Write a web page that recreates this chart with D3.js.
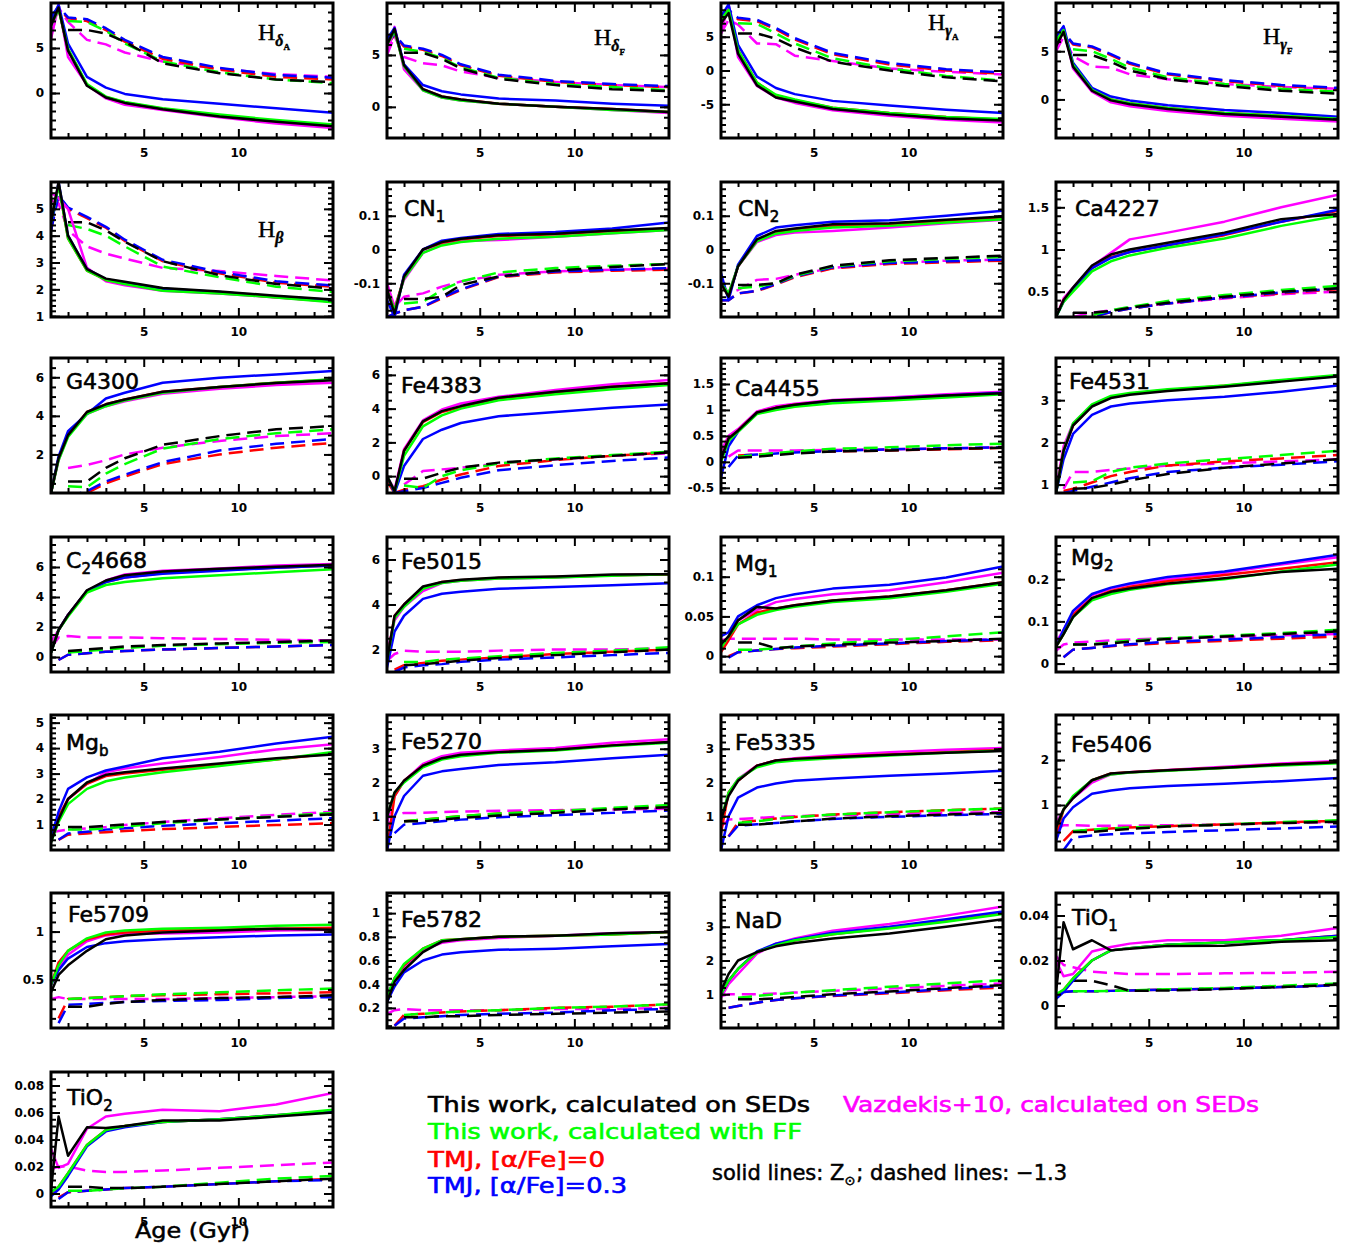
<!DOCTYPE html>
<html><head><meta charset="utf-8">
<script src="https://cdn.jsdelivr.net/npm/d3@7"></script>
<style>body{margin:0;background:#fff}</style>
</head><body>
<svg id="c" width="1346" height="1247" xmlns="http://www.w3.org/2000/svg"></svg>
<script>
// ---------- DATA ----------
const AGES = [0.1, 0.5, 1, 2, 3, 4, 6, 9, 12, 15];   // Gyr
const SERIES = ["This work, calculated on SEDs", "This work, calculated with FF", "TMJ, [α/Fe]=0", "TMJ, [α/Fe]=0.3", "Vazdekis+10, calculated on SEDs"];
const COLORS = ["#000000", "#00ff00", "#ff0000", "#0000ff", "#ff00ff"];
// each panel: rows 0-4 solid (Z_sun): black, green, red, blue, magenta ; rows 5-9 dashed ([M/H]=-1.3), same order
const HdA = [
 [7.5, 9.5, 4.7, 0.8, -0.5, -1.1, -1.8, -2.6, -3.2, -3.7],
 [7.5, 9.3, 4.9, 1.0, -0.4, -1.0, -1.7, -2.4, -3.0, -3.5],
 [8.0, 9.4, 4.8, 0.9, -0.45, -1.05, -1.75, -2.5, -3.1, -3.6],
 [8.0, 9.8, 5.5, 1.8, 0.6, -0.1, -0.7, -1.2, -1.7, -2.2],
 [6.0, 9.8, 4.0, 0.9, -0.6, -1.3, -1.9, -2.7, -3.4, -3.9],
 [null, null, 7.0, 7.0, 6.6, 5.7, 3.3, 2.2, 1.5, 1.2],
 [null, null, 8.0, 7.9, 6.9, 5.5, 3.5, 2.3, 1.5, 1.1],
 [8.3, 9.4, 8.3, 8.0, 7.0, 5.7, 3.8, 2.6, 1.8, 1.5],
 [8.5, 9.6, 8.4, 8.2, 7.2, 5.9, 4.0, 2.8, 2.0, 1.7],
 [6.3, 9.5, 7.9, 5.9, 5.4, 4.5, 3.5, 2.7, 2.1, 1.8]];
const HdF = [
 [6, 7.5, 4, 1.7, 1.0, 0.7, 0.3, 0.0, -0.2, -0.5],
 [6, 7.3, 3.9, 1.6, 0.9, 0.6, 0.3, 0.0, -0.3, -0.5],
 [6, 7.4, 4, 1.7, 1.0, 0.7, 0.3, 0, -0.2, -0.5],
 [6.5, 7.6, 4.1, 2.1, 1.5, 1.2, 0.8, 0.6, 0.3, 0.1],
 [5, 7.7, 3.6, 1.6, 0.9, 0.6, 0.3, 0.0, -0.3, -0.6],
 [null, null, 5.2, 5.2, 4.6, 3.7, 2.7, 2.1, 1.7, 1.5],
 [null, null, 5.6, 5.3, 4.7, 3.8, 2.8, 2.2, 1.9, 1.6],
 [6, 6.9, 5.8, 5.5, 4.9, 4.0, 3.0, 2.4, 2.1, 1.9],
 [6, 7, 5.9, 5.6, 5.0, 4.1, 3.1, 2.5, 2.2, 2.0],
 [5, 6.8, 4.8, 4.2, 4.0, 3.4, 2.8, 2.4, 2.1, 1.9]];
const HgA = [
 [7, 8.5, 2.5, -2.2, -4.0, -4.6, -5.7, -6.5, -7.1, -7.4],
 [7.5, 9, 3.0, -1.8, -3.6, -4.3, -5.5, -6.3, -6.9, -7.2],
 [7.5, 9, 3.0, -1.8, -3.7, -4.4, -5.5, -6.3, -6.9, -7.3],
 [8, 9.8, 3.8, -0.9, -2.6, -3.5, -4.5, -5.2, -5.8, -6.3],
 [5.5, 9.8, 2.0, -2.3, -4.0, -4.8, -5.9, -6.7, -7.3, -7.7],
 [null, null, 5.5, 5.5, 4.7, 3.4, 1.3, 0.0, -1.0, -1.6],
 [null, null, 7.0, 6.9, 5.5, 4.0, 1.8, 0.3, -0.8, -1.5],
 [7.8, 8.8, 7.6, 7.3, 6.1, 4.6, 2.4, 0.9, 0.0, -0.5],
 [8, 9, 7.8, 7.5, 6.3, 4.8, 2.6, 1.1, 0.2, -0.3],
 [5.5, 7.5, 6.8, 4.0, 3.9, 2.2, 1.4, 0.3, -0.2, -0.6]];
const HgF = [
 [5.5, 7, 3.4, 0.9, -0.1, -0.5, -1.0, -1.5, -1.8, -2.1],
 [6, 7.2, 3.6, 1.0, 0.0, -0.4, -0.9, -1.4, -1.7, -2.0],
 [6, 7.2, 3.6, 1.0, 0.0, -0.4, -0.9, -1.4, -1.7, -2.0],
 [6.5, 7.6, 3.8, 1.2, 0.3, -0.1, -0.6, -1.1, -1.4, -1.8],
 [5, 7.5, 3.2, 0.8, -0.3, -0.7, -1.2, -1.7, -2.0, -2.3],
 [null, null, 4.6, 4.6, 3.9, 3.0, 2.1, 1.4, 0.9, 0.6],
 [null, null, 5.2, 5.0, 4.2, 3.3, 2.3, 1.6, 1.1, 0.8],
 [5.9, 6.9, 5.7, 5.4, 4.6, 3.7, 2.6, 1.9, 1.4, 1.1],
 [6, 7, 5.8, 5.5, 4.7, 3.8, 2.7, 2.0, 1.5, 1.2],
 [5, 6.5, 4.5, 3.4, 3.3, 2.6, 2.1, 1.6, 1.3, 1.1]];
const Hb = [
 [4.5, 6.0, 4.0, 2.75, 2.4, 2.28, 2.05, 1.92, 1.76, 1.62],
 [4.5, 5.9, 3.9, 2.7, 2.35, 2.2, 1.95, 1.85, 1.7, 1.52],
 [4.5, 5.9, 3.9, 2.7, 2.35, 2.22, 1.97, 1.87, 1.71, 1.55],
 [4.2, 6.0, 4.0, 2.75, 2.38, 2.25, 2.02, 1.9, 1.73, 1.6],
 [5.6, 5.4, 5.0, 2.8, 2.3, 2.15, 1.95, 1.85, 1.7, 1.55],
 [null, null, 4.5, 4.5, 4.2, 3.77, 3.05, 2.53, 2.2, 2.03],
 [null, null, 4.4, 4.25, 4.0, 3.6, 2.85, 2.45, 2.1, 1.9],
 [4.2, 5.5, 5.0, 4.65, 4.3, 3.8, 3.05, 2.6, 2.25, 2.1],
 [4.2, 5.5, 5.05, 4.7, 4.33, 3.85, 3.1, 2.65, 2.3, 2.15],
 [5.3, 5.2, 4.2, 3.6, 3.33, 3.15, 2.8, 2.68, 2.5, 2.33]];
const CN1 = [
 [-0.12, -0.19, -0.08, 0.0, 0.022, 0.032, 0.042, 0.047, 0.056, 0.064],
 [-0.12, -0.18, -0.085, -0.01, 0.012, 0.022, 0.032, 0.038, 0.048, 0.058],
 [-0.12, -0.18, -0.08, 0.0, 0.02, 0.03, 0.04, 0.045, 0.055, 0.062],
 [-0.15, -0.2, -0.075, 0.0, 0.026, 0.034, 0.046, 0.052, 0.062, 0.08],
 [-0.1, -0.17, -0.09, -0.01, 0.015, 0.025, 0.028, 0.038, 0.048, 0.058],
 [null, null, -0.147, -0.147, -0.14, -0.105, -0.08, -0.062, -0.052, -0.043],
 [null, null, -0.16, -0.155, -0.12, -0.095, -0.068, -0.055, -0.048, -0.043],
 [-0.2, -0.19, -0.18, -0.17, -0.145, -0.12, -0.082, -0.068, -0.063, -0.06],
 [-0.2, -0.19, -0.18, -0.17, -0.142, -0.118, -0.08, -0.065, -0.06, -0.055],
 [-0.13, -0.17, -0.14, -0.13, -0.11, -0.095, -0.075, -0.065, -0.06, -0.057]];
const CN2 = [
 [-0.1, -0.14, -0.05, 0.03, 0.055, 0.062, 0.075, 0.078, 0.088, 0.098],
 [-0.1, -0.13, -0.05, 0.025, 0.047, 0.055, 0.065, 0.07, 0.08, 0.09],
 [-0.1, -0.14, -0.05, 0.028, 0.05, 0.058, 0.07, 0.074, 0.084, 0.094],
 [-0.07, -0.15, -0.045, 0.04, 0.065, 0.072, 0.082, 0.087, 0.1, 0.115],
 [-0.1, -0.13, -0.05, 0.022, 0.043, 0.05, 0.055, 0.065, 0.078, 0.088],
 [null, null, -0.105, -0.105, -0.1, -0.075, -0.048, -0.032, -0.025, -0.018],
 [null, null, -0.115, -0.11, -0.1, -0.078, -0.05, -0.035, -0.028, -0.022],
 [-0.15, -0.15, -0.13, -0.123, -0.104, -0.082, -0.056, -0.043, -0.038, -0.033],
 [-0.15, -0.15, -0.13, -0.122, -0.102, -0.08, -0.053, -0.04, -0.035, -0.03],
 [-0.1, -0.13, -0.12, -0.09, -0.087, -0.075, -0.055, -0.04, -0.033, -0.03]];
const Ca4227 = [
 [0.2, 0.4, 0.55, 0.81, 0.94, 1.0, 1.08, 1.2, 1.36, 1.42],
 [0.2, 0.38, 0.5, 0.74, 0.86, 0.93, 1.02, 1.13, 1.28, 1.4],
 [0.2, 0.4, 0.53, 0.78, 0.91, 0.97, 1.05, 1.17, 1.33, 1.46],
 [0.2, 0.38, 0.52, 0.78, 0.9, 0.97, 1.05, 1.18, 1.33, 1.47],
 [0.2, 0.42, 0.55, 0.8, 0.96, 1.12, 1.2, 1.33, 1.5, 1.65],
 [null, null, 0.25, 0.25, 0.27, 0.31, 0.37, 0.44, 0.5, 0.54],
 [null, null, 0.18, 0.22, 0.28, 0.32, 0.39, 0.46, 0.52, 0.57],
 [0.15, 0.15, 0.15, 0.2, 0.26, 0.3, 0.36, 0.43, 0.48, 0.53],
 [0.15, 0.15, 0.15, 0.2, 0.26, 0.3, 0.36, 0.43, 0.49, 0.54],
 [null, null, 0.2, 0.25, 0.28, 0.31, 0.36, 0.42, 0.47, 0.5]];
const G4300 = [
 [0, 1.8, 3.0, 4.2, 4.6, 4.85, 5.25, 5.5, 5.7, 5.85],
 [0, 1.7, 2.9, 4.1, 4.5, 4.8, 5.2, 5.5, 5.72, 5.9],
 [0, 1.8, 3.0, 4.2, 4.6, 4.85, 5.25, 5.5, 5.72, 5.88],
 [0, 1.9, 3.2, 4.1, 4.9, 5.2, 5.72, 5.98, 6.15, 6.33],
 [0, 1.7, 3.0, 4.1, 4.5, 4.75, 5.15, 5.4, 5.6, 5.72],
 [null, null, 0.6, 0.6, 1.3, 1.8, 2.5, 2.95, 3.3, 3.47],
 [null, null, 0.35, 0.3, 1.0, 1.5, 2.3, 2.8, 3.1, 3.3],
 [null, null, -0.3, 0.0, 0.5, 0.85, 1.5, 2.0, 2.35, 2.6],
 [null, null, -0.2, 0.1, 0.6, 0.95, 1.6, 2.2, 2.55, 2.8],
 [null, null, 1.3, 1.45, 1.7, 2.0, 2.35, 2.7, 2.95, 3.1]];
const Fe4383 = [
 [0, -0.9, 1.5, 3.25, 3.85, 4.15, 4.65, 5.0, 5.3, 5.5],
 [0, -0.9, 1.2, 2.95, 3.6, 4.0, 4.5, 4.85, 5.15, 5.4],
 [-0.3, -1.0, 1.5, 3.2, 3.8, 4.1, 4.6, 4.95, 5.3, 5.5],
 [0, -1.0, 0.6, 2.2, 2.75, 3.15, 3.55, 3.8, 4.05, 4.25],
 [0, -0.8, 1.6, 3.3, 3.95, 4.3, 4.7, 5.1, 5.45, 5.7],
 [null, null, -0.15, -0.15, 0.2, 0.5, 0.8, 1.0, 1.2, 1.4],
 [null, null, -0.55, -0.7, 0.0, 0.35, 0.75, 1.05, 1.25, 1.45],
 [null, -1.0, -0.8, -0.6, -0.2, 0.1, 0.6, 0.95, 1.2, 1.4],
 [null, -1.0, -0.9, -0.7, -0.4, -0.1, 0.35, 0.65, 0.9, 1.1],
 [null, null, -0.5, 0.3, 0.4, 0.5, 0.75, 1.0, 1.2, 1.35]];
const Ca4455 = [
 [0.05, 0.45, 0.6, 0.95, 1.04, 1.1, 1.18, 1.22, 1.28, 1.32],
 [0.0, 0.4, 0.58, 0.92, 1.0, 1.06, 1.13, 1.18, 1.24, 1.3],
 [0.05, 0.45, 0.6, 0.95, 1.04, 1.1, 1.17, 1.21, 1.27, 1.32],
 [-0.3, 0.3, 0.58, 0.94, 1.03, 1.09, 1.17, 1.22, 1.28, 1.33],
 [0.2, 0.5, 0.63, 0.97, 1.07, 1.12, 1.19, 1.24, 1.3, 1.35],
 [null, null, 0.08, 0.1, 0.13, 0.16, 0.2, 0.22, 0.25, 0.27],
 [null, null, 0.1, 0.13, 0.17, 0.2, 0.25, 0.28, 0.32, 0.35],
 [null, null, 0.12, 0.14, 0.16, 0.18, 0.2, 0.22, 0.24, 0.27],
 [null, -0.1, 0.12, 0.14, 0.16, 0.18, 0.21, 0.24, 0.26, 0.28],
 [null, 0.1, 0.22, 0.22, 0.22, 0.22, 0.23, 0.24, 0.26, 0.28]];
const Fe4531 = [
 [0.8, 1.8, 2.4, 2.85, 3.05, 3.13, 3.22, 3.32, 3.44, 3.56],
 [0.8, 1.8, 2.45, 2.9, 3.1, 3.17, 3.26, 3.35, 3.48, 3.6],
 [0.8, 1.8, 2.4, 2.87, 3.07, 3.15, 3.24, 3.34, 3.46, 3.58],
 [0.8, 1.6, 2.2, 2.65, 2.85, 2.92, 3.0, 3.08, 3.2, 3.35],
 [0.9, 1.9, 2.45, 2.88, 3.08, 3.15, 3.24, 3.33, 3.46, 3.58],
 [null, null, 0.9, 0.92, 1.0, 1.1, 1.25, 1.4, 1.5, 1.6],
 [null, null, 1.05, 1.08, 1.3, 1.4, 1.5, 1.6, 1.7, 1.8],
 [null, 0.85, 0.9, 1.05, 1.2, 1.3, 1.45, 1.55, 1.62, 1.7],
 [null, 0.8, 0.85, 0.95, 1.05, 1.15, 1.3, 1.4, 1.47, 1.55],
 [null, 0.9, 1.3, 1.3, 1.35, 1.38, 1.45, 1.5, 1.55, 1.6]];
const C24668 = [
 [0.3, 1.8, 2.8, 4.45, 5.1, 5.45, 5.7, 5.88, 6.02, 6.15],
 [0.3, 1.8, 2.7, 4.3, 4.8, 5.0, 5.25, 5.45, 5.65, 5.85],
 [0.3, 1.8, 2.8, 4.4, 5.0, 5.3, 5.6, 5.8, 5.95, 6.1],
 [0.3, 1.8, 2.8, 4.4, 5.0, 5.3, 5.55, 5.75, 5.95, 6.1],
 [1.0, 1.8, 2.8, 4.4, 5.1, 5.5, 5.75, 5.9, 6.1, 6.2],
 [null, null, 0.4, 0.5, 0.6, 0.7, 0.8, 0.9, 1.0, 1.1],
 [null, null, 0.3, 0.4, 0.5, 0.6, 0.75, 0.85, 0.95, 1.0],
 [null, -0.2, 0.15, 0.25, 0.35, 0.4, 0.5, 0.6, 0.7, 0.8],
 [null, -0.2, 0.15, 0.25, 0.35, 0.4, 0.5, 0.6, 0.7, 0.8],
 [0.6, 1.3, 1.4, 1.3, 1.3, 1.3, 1.25, 1.2, 1.15, 1.1]];
const Fe5015 = [
 [1.5, 3.5, 4.0, 4.8, 5.0, 5.1, 5.2, 5.24, 5.33, 5.35],
 [1.5, 3.4, 3.9, 4.7, 4.95, 5.05, 5.15, 5.2, 5.28, 5.35],
 [1.5, 3.5, 4.0, 4.75, 5.0, 5.08, 5.18, 5.22, 5.3, 5.33],
 [1.2, 2.8, 3.5, 4.25, 4.48, 4.57, 4.7, 4.78, 4.86, 4.94],
 [1.8, 3.3, 3.9, 4.6, 4.95, 5.05, 5.15, 5.2, 5.3, 5.35],
 [null, null, 1.3, 1.35, 1.42, 1.5, 1.62, 1.75, 1.88, 2.0],
 [null, null, 1.45, 1.45, 1.55, 1.6, 1.7, 1.85, 1.95, 2.1],
 [null, 1.1, 1.3, 1.4, 1.5, 1.55, 1.65, 1.8, 1.9, 2.0],
 [null, 1.0, 1.2, 1.3, 1.35, 1.45, 1.55, 1.65, 1.75, 1.85],
 [1.5, 1.8, 1.95, 1.9, 1.9, 1.9, 1.95, 2.0, 2.0, 2.05]];
const Mg1 = [
 [0.015, 0.025, 0.045, 0.062, 0.06, 0.064, 0.07, 0.075, 0.083, 0.093],
 [0.01, 0.025, 0.04, 0.052, 0.058, 0.062, 0.068, 0.073, 0.081, 0.091],
 [0.005, 0.02, 0.04, 0.055, 0.06, 0.064, 0.07, 0.075, 0.083, 0.093],
 [0.025, 0.03, 0.05, 0.064, 0.073, 0.078, 0.085, 0.09, 0.099, 0.113],
 [0.01, 0.025, 0.045, 0.058, 0.068, 0.072, 0.078, 0.083, 0.093, 0.105],
 [null, null, 0.017, 0.017, 0.01, 0.012, 0.014, 0.017, 0.019, 0.022],
 [null, null, 0.008, 0.008, 0.01, 0.012, 0.016, 0.02, 0.025, 0.03],
 [null, 0.0, 0.005, 0.007, 0.009, 0.01, 0.012, 0.015, 0.018, 0.02],
 [null, -0.002, 0.005, 0.007, 0.009, 0.011, 0.013, 0.016, 0.019, 0.021],
 [0.02, 0.022, 0.022, 0.022, 0.022, 0.022, 0.021, 0.021, 0.021, 0.021]];
const Mg2 = [
 [0.04, 0.07, 0.11, 0.155, 0.17, 0.178, 0.19, 0.202, 0.217, 0.225],
 [0.04, 0.07, 0.11, 0.15, 0.165, 0.175, 0.188, 0.2, 0.218, 0.235],
 [0.04, 0.07, 0.115, 0.155, 0.172, 0.182, 0.195, 0.21, 0.225, 0.24],
 [0.04, 0.08, 0.125, 0.165, 0.18, 0.19, 0.205, 0.218, 0.238, 0.258],
 [0.05, 0.08, 0.12, 0.162, 0.178, 0.188, 0.2, 0.215, 0.235, 0.252],
 [null, null, 0.045, 0.045, 0.048, 0.052, 0.058, 0.064, 0.07, 0.076],
 [null, null, 0.045, 0.046, 0.05, 0.054, 0.06, 0.066, 0.072, 0.08],
 [null, 0.015, 0.033, 0.037, 0.041, 0.044, 0.049, 0.054, 0.059, 0.064],
 [null, 0.015, 0.033, 0.037, 0.042, 0.046, 0.052, 0.057, 0.063, 0.07],
 [0.03, 0.045, 0.05, 0.052, 0.055, 0.057, 0.06, 0.063, 0.067, 0.07]];
const Mgb = [
 [0.3, 1.2, 2.0, 2.65, 2.95, 3.05, 3.2, 3.4, 3.6, 3.75],
 [0.3, 1.1, 1.8, 2.4, 2.7, 2.85, 3.05, 3.3, 3.55, 3.85],
 [0.5, 1.3, 2.0, 2.6, 2.9, 3.0, 3.15, 3.35, 3.55, 3.8],
 [0.5, 1.5, 2.4, 2.85, 3.12, 3.28, 3.6, 3.86, 4.18, 4.45],
 [0.5, 1.3, 2.0, 2.6, 3.05, 3.2, 3.4, 3.65, 3.95, 4.15],
 [null, null, 0.9, 0.9, 0.95, 1.0, 1.1, 1.2, 1.3, 1.4],
 [null, null, 0.8, 0.8, 0.85, 0.92, 1.05, 1.2, 1.32, 1.45],
 [null, 0.4, 0.6, 0.65, 0.7, 0.75, 0.82, 0.9, 0.98, 1.05],
 [null, 0.4, 0.65, 0.72, 0.8, 0.85, 0.95, 1.05, 1.15, 1.25],
 [0.7, 0.75, 0.8, 0.85, 0.9, 0.98, 1.1, 1.25, 1.38, 1.5]];
const Fe5270 = [
 [1.0, 1.7, 2.05, 2.5, 2.72, 2.82, 2.9, 2.97, 3.1, 3.2],
 [1.0, 1.7, 2.0, 2.45, 2.68, 2.78, 2.88, 2.95, 3.08, 3.18],
 [0.0, 1.6, 2.05, 2.5, 2.7, 2.8, 2.9, 2.96, 3.1, 3.2],
 [0.0, 1.0, 1.6, 2.2, 2.33, 2.4, 2.52, 2.6, 2.72, 2.82],
 [0.8, 1.6, 2.05, 2.55, 2.78, 2.88, 2.95, 3.02, 3.18, 3.28],
 [null, null, 0.85, 0.85, 0.9, 0.95, 1.02, 1.1, 1.2, 1.27],
 [null, null, 0.85, 0.9, 0.95, 1.0, 1.08, 1.15, 1.25, 1.33],
 [null, null, 0.85, 0.9, 0.95, 1.0, 1.08, 1.15, 1.22, 1.3],
 [null, 0.5, 0.75, 0.8, 0.85, 0.9, 0.97, 1.03, 1.1, 1.17],
 [0.7, 1.0, 1.1, 1.1, 1.12, 1.14, 1.16, 1.18, 1.2, 1.22]];
const Fe5335 = [
 [0.9, 1.6, 2.05, 2.5, 2.65, 2.7, 2.75, 2.82, 2.88, 2.93],
 [0.9, 1.7, 2.1, 2.45, 2.6, 2.65, 2.72, 2.8, 2.88, 2.95],
 [0.5, 1.7, 2.05, 2.5, 2.65, 2.7, 2.76, 2.83, 2.9, 2.97],
 [0.0, 1.0, 1.55, 1.85, 1.97, 2.05, 2.12, 2.2, 2.27, 2.35],
 [0.8, 1.7, 2.1, 2.5, 2.65, 2.72, 2.8, 2.9, 2.97, 3.02],
 [null, null, 0.75, 0.75, 0.8, 0.85, 0.93, 1.0, 1.05, 1.1],
 [null, null, 0.8, 0.85, 0.92, 0.97, 1.05, 1.12, 1.18, 1.23],
 [null, 0.4, 0.82, 0.87, 0.93, 0.98, 1.05, 1.12, 1.18, 1.23],
 [null, 0.4, 0.72, 0.76, 0.8, 0.85, 0.92, 0.98, 1.03, 1.07],
 [0.7, 0.9, 0.92, 0.95, 0.98, 1.0, 1.03, 1.06, 1.1, 1.12]];
const Fe5406 = [
 [0.5, 0.9, 1.15, 1.55, 1.7, 1.73, 1.77, 1.83, 1.9, 1.95],
 [0.5, 0.9, 1.2, 1.55, 1.68, 1.72, 1.76, 1.82, 1.88, 1.93],
 [0.3, 0.9, 1.18, 1.55, 1.7, 1.73, 1.77, 1.83, 1.9, 1.95],
 [0.2, 0.7, 0.95, 1.25, 1.32, 1.37, 1.42, 1.47, 1.53, 1.6],
 [0.6, 0.9, 1.15, 1.5, 1.68, 1.73, 1.78, 1.85, 1.92, 1.98],
 [null, null, 0.4, 0.4, 0.44, 0.47, 0.52, 0.56, 0.6, 0.63],
 [null, null, 0.42, 0.45, 0.48, 0.5, 0.53, 0.57, 0.62, 0.66],
 [null, 0.2, 0.42, 0.45, 0.48, 0.5, 0.53, 0.57, 0.61, 0.65],
 [null, 0.0, 0.28, 0.32, 0.35, 0.37, 0.4, 0.44, 0.48, 0.52],
 [0.45, 0.55, 0.55, 0.54, 0.54, 0.54, 0.55, 0.57, 0.6, 0.62]];
const Fe5709 = [
 [0.37, 0.55, 0.65, 0.8, 0.92, 0.96, 0.99, 1.01, 1.03, 1.02],
 [0.45, 0.65, 0.8, 0.93, 0.99, 1.01, 1.03, 1.04, 1.06, 1.07],
 [0.45, 0.68, 0.8, 0.92, 0.97, 0.99, 1.01, 1.02, 1.03, 1.04],
 [0.45, 0.6, 0.72, 0.84, 0.88, 0.9, 0.92, 0.94, 0.96, 0.97],
 [0.45, 0.62, 0.76, 0.9, 0.96, 0.98, 0.98, 0.99, 1.01, 1.02],
 [null, null, 0.22, 0.22, 0.25, 0.27, 0.29, 0.31, 0.32, 0.34],
 [null, null, 0.3, 0.31, 0.32, 0.33, 0.35, 0.37, 0.39, 0.41],
 [null, 0.1, 0.3, 0.31, 0.32, 0.33, 0.34, 0.35, 0.36, 0.37],
 [null, 0.05, 0.24, 0.25, 0.26, 0.27, 0.28, 0.29, 0.31, 0.32],
 [0.3, 0.32, 0.3, 0.3, 0.3, 0.3, 0.3, 0.31, 0.32, 0.33]];
const Fe5782 = [
 [0.25, 0.42, 0.52, 0.67, 0.76, 0.78, 0.8, 0.81, 0.83, 0.84],
 [0.3, 0.45, 0.57, 0.7, 0.77, 0.78, 0.8, 0.81, 0.82, 0.84],
 [0.25, 0.45, 0.56, 0.7, 0.77, 0.78, 0.8, 0.81, 0.82, 0.84],
 [0.25, 0.38, 0.5, 0.6, 0.65, 0.67, 0.69, 0.7, 0.72, 0.74],
 [0.3, 0.45, 0.55, 0.69, 0.75, 0.77, 0.79, 0.81, 0.83, 0.84],
 [null, null, 0.12, 0.12, 0.13, 0.13, 0.14, 0.15, 0.16, 0.17],
 [null, null, 0.14, 0.15, 0.16, 0.17, 0.18, 0.2, 0.21, 0.23],
 [null, 0.05, 0.14, 0.15, 0.16, 0.17, 0.18, 0.2, 0.21, 0.23],
 [null, 0.05, 0.11, 0.12, 0.13, 0.14, 0.15, 0.16, 0.18, 0.19],
 [0.15, 0.18, 0.19, 0.18, 0.18, 0.18, 0.18, 0.19, 0.19, 0.2]];
const NaD = [
 [1.1, 1.6, 2.0, 2.25, 2.42, 2.52, 2.65, 2.8, 3.0, 3.22],
 [1.0, 1.4, 1.75, 2.25, 2.45, 2.6, 2.78, 2.95, 3.15, 3.38],
 [1.0, 1.4, 1.75, 2.25, 2.47, 2.6, 2.78, 2.97, 3.17, 3.4],
 [1.0, 1.4, 1.75, 2.27, 2.5, 2.62, 2.82, 3.0, 3.22, 3.45],
 [0.9, 1.3, 1.6, 2.2, 2.5, 2.65, 2.88, 3.08, 3.33, 3.6],
 [null, null, 0.85, 0.85, 0.88, 0.92, 1.0, 1.08, 1.18, 1.27],
 [null, null, 0.9, 0.95, 1.0, 1.05, 1.12, 1.22, 1.32, 1.42],
 [null, 0.6, 0.65, 0.75, 0.83, 0.88, 0.95, 1.03, 1.12, 1.2],
 [null, 0.6, 0.65, 0.75, 0.83, 0.88, 0.96, 1.05, 1.15, 1.25],
 [0.95, 1.0, 1.0, 1.0, 1.02, 1.05, 1.1, 1.17, 1.25, 1.32]];
const TiO1 = [
 [0.006, 0.037, 0.025, 0.029, 0.0245, 0.0252, 0.0265, 0.0266, 0.0283, 0.029],
 [0.005, 0.007, 0.012, 0.02, 0.0245, 0.0255, 0.027, 0.028, 0.029, 0.0305],
 [0.004, 0.007, 0.012, 0.02, 0.0245, 0.0255, 0.027, 0.028, 0.029, 0.031],
 [0.003, 0.006, 0.011, 0.02, 0.0245, 0.0255, 0.027, 0.028, 0.029, 0.031],
 [0.02, 0.013, 0.014, 0.024, 0.026, 0.0275, 0.029, 0.029, 0.031, 0.0345],
 [null, null, 0.011, 0.011, 0.009, 0.0065, 0.0067, 0.0073, 0.0082, 0.0092],
 [null, null, 0.0063, 0.0063, 0.0065, 0.0067, 0.0072, 0.0078, 0.0088, 0.0098],
 [null, 0.006, 0.0063, 0.0063, 0.0065, 0.0067, 0.007, 0.0075, 0.0082, 0.009],
 [null, 0.006, 0.0063, 0.0063, 0.0065, 0.0067, 0.007, 0.0075, 0.0082, 0.009],
 [0.022, 0.018, 0.017, 0.015, 0.0145, 0.014, 0.014, 0.0143, 0.0145, 0.015]];
const TiO2 = [
 [0.002, 0.057, 0.028, 0.049, 0.0485, 0.05, 0.054, 0.054, 0.057, 0.06],
 [0.001, 0.005, 0.015, 0.036, 0.047, 0.05, 0.053, 0.055, 0.058, 0.062],
 [0.0, 0.005, 0.015, 0.036, 0.047, 0.05, 0.053, 0.055, 0.058, 0.061],
 [-0.002, 0.003, 0.013, 0.035, 0.046, 0.049, 0.053, 0.055, 0.058, 0.061],
 [0.033, 0.019, 0.022, 0.048, 0.057, 0.059, 0.062, 0.061, 0.066, 0.0745],
 [null, null, 0.005, 0.005, 0.004, 0.004, 0.005, 0.007, 0.009, 0.011],
 [null, null, 0.002, 0.002, 0.003, 0.004, 0.005, 0.008, 0.011, 0.013],
 [null, -0.003, 0.001, 0.002, 0.003, 0.004, 0.005, 0.007, 0.009, 0.011],
 [null, -0.004, 0.001, 0.002, 0.003, 0.004, 0.005, 0.007, 0.009, 0.01],
 [0.018, 0.02, 0.02, 0.017, 0.016, 0.016, 0.017, 0.019, 0.021, 0.023]];

// panel labels: [text, level] level 0 normal, 1 subscript, 2 sub-subscript
const PANELS = [
 {data: HdA, dom: [-5, 10], maj: 5, min: 1, serif: true, lab: [["H",0],["δ",1],["A",2]], lx: 207, ly: 37},
 {data: HdF, dom: [-3, 10], maj: 5, min: 1, serif: true, lab: [["H",0],["δ",1],["F",2]], lx: 207, ly: 42},
 {data: HgA, dom: [-10, 10], maj: 5, min: 1, serif: true, lab: [["H",0],["γ",1],["A",2]], lx: 207, ly: 27},
 {data: HgF, dom: [-4, 10], maj: 5, min: 1, serif: true, lab: [["H",0],["γ",1],["F",2]], lx: 207, ly: 41},
 {data: Hb, dom: [0.97, 6], maj: 1, min: 0.2, serif: true, lab: [["H",0],["β",1]], lx: 207, ly: 55},
 {data: CN1, dom: [-0.2, 0.2], maj: 0.1, min: 0.02, lab: [["CN",0],["1",1]], lx: 17, ly: 34},
 {data: CN2, dom: [-0.2, 0.2], maj: 0.1, min: 0.02, lab: [["CN",0],["2",1]], lx: 17, ly: 34},
 {data: Ca4227, dom: [0.2, 1.8], maj: 0.5, min: 0.1, lab: [["Ca4227",0]], lx: 19, ly: 34},
 {data: G4300, dom: [0, 7], maj: 2, min: 0.5, lab: [["G4300",0]], lx: 15, ly: 31},
 {data: Fe4383, dom: [-1, 7], maj: 2, min: 0.5, lab: [["Fe4383",0]], lx: 14, ly: 35},
 {data: Ca4455, dom: [-0.6, 2], maj: 0.5, min: 0.1, lab: [["Ca4455",0]], lx: 14, ly: 38},
 {data: Fe4531, dom: [0.8, 4], maj: 1, min: 0.2, lab: [["Fe4531",0]], lx: 13, ly: 31},
 {data: C24668, dom: [-1, 8], maj: 2, min: 0.5, lab: [["C",0],["2",1],["4668",0]], lx: 15, ly: 31},
 {data: Fe5015, dom: [1, 7], maj: 2, min: 0.5, lab: [["Fe5015",0]], lx: 14, ly: 32},
 {data: Mg1, dom: [-0.02, 0.15], maj: 0.05, min: 0.01, lab: [["Mg",0],["1",1]], lx: 14, ly: 34},
 {data: Mg2, dom: [-0.02, 0.3], maj: 0.1, min: 0.02, lab: [["Mg",0],["2",1]], lx: 15, ly: 28},
 {data: Mgb, dom: [0, 5.3], maj: 1, min: 0.2, lab: [["Mg",0],["b",1]], lx: 15, ly: 35},
 {data: Fe5270, dom: [0, 4], maj: 1, min: 0.2, lab: [["Fe5270",0]], lx: 14, ly: 34},
 {data: Fe5335, dom: [0, 4], maj: 1, min: 0.2, lab: [["Fe5335",0]], lx: 14, ly: 35},
 {data: Fe5406, dom: [0, 3], maj: 1, min: 0.2, lab: [["Fe5406",0]], lx: 15, ly: 37},
 {data: Fe5709, dom: [0, 1.4], maj: 0.5, min: 0.1, lab: [["Fe5709",0]], lx: 17, ly: 29},
 {data: Fe5782, dom: [0.03, 1.17], maj: 0.2, min: 0.05, lab: [["Fe5782",0]], lx: 14, ly: 34},
 {data: NaD, dom: [0, 4], maj: 1, min: 0.2, lab: [["NaD",0]], lx: 14, ly: 35},
 {data: TiO1, dom: [-0.01, 0.05], maj: 0.02, min: 0.005, lab: [["TiO",0],["1",1]], lx: 16, ly: 32},
 {data: TiO2, dom: [-0.01, 0.09], maj: 0.02, min: 0.005, lab: [["TiO",0],["2",1]], lx: 16, ly: 33}
];
const X_MAJOR = [5, 10];
const X_MINOR = [1,2,3,4,6,7,8,9,11,12,13,14];

// ---------- DRAW ----------
const svg = d3.select("#c");
const LEFTS = [51, 387, 721, 1056], TOPS = [3, 182, 358, 537, 715, 893, 1072];
const W = 282, H = 135;
const ORDER = [4, 2, 3, 1, 0];
const fmt = v => String(+(+v).toFixed(4)).replace("−", "-");
function steps(dom, st) {
  const out = [];
  const n0 = Math.ceil(dom[0] / st - 1e-6), n1 = Math.floor(dom[1] / st + 1e-6);
  for (let n = n0; n <= n1; n++) {
    const v = +(n * st).toFixed(6);
    if (v > dom[0] + 1e-9 && v < dom[1] - 1e-9) out.push(v);
  }
  return out;
}
function styleAxis(sel) {
  sel.select(".domain").remove();
  sel.selectAll(".tick line").attr("stroke", "#000").attr("stroke-width", 2);
  sel.selectAll("text").attr("font-family", "DejaVu Sans, sans-serif").attr("font-size", 12)
     .attr("font-weight", "bold").attr("fill", "#000");
}

PANELS.forEach((p, i) => {
  const col = i % 4, row = Math.floor(i / 4);
  const L = LEFTS[col], T = TOPS[row];
  const x = d3.scaleLinear().domain([0.1, 15]).range([L, L + W]);
  const y = d3.scaleLinear().domain(p.dom).range([T + H, T]);
  const g = svg.append("g");
  const cid = "clip" + i;
  g.append("clipPath").attr("id", cid).append("rect")
    .attr("x", L).attr("y", T).attr("width", W).attr("height", H);
  const lg = g.append("g").attr("clip-path", `url(#${cid})`);
  const line = d3.line().defined(d => d[1] !== null).x(d => x(d[0])).y(d => y(d[1]));
  [1, 0].forEach(dash => {
    ORDER.forEach(s => {
      const vals = p.data[dash ? 5 + s : s];
      lg.append("path").datum(AGES.map((a, k) => [a, vals[k]]))
        .attr("d", line).attr("fill", "none").attr("stroke", COLORS[s])
        .attr("stroke-width", 2.5).attr("stroke-linejoin", "round")
        .attr("stroke-dasharray", dash ? "14,7" : null);
    });
  });
  const yMaj = steps(p.dom, p.maj), yMin = steps(p.dom, p.min);
  g.append("g").attr("transform", `translate(${L},0)`)
    .call(d3.axisLeft(y).tickValues(yMaj).tickSize(-9).tickPadding(7).tickFormat(fmt)).call(styleAxis);
  g.append("g").attr("transform", `translate(${L},0)`)
    .call(d3.axisLeft(y).tickValues(yMin).tickSize(-5).tickFormat("")).call(styleAxis);
  g.append("g").attr("transform", `translate(${L + W},0)`)
    .call(d3.axisRight(y).tickValues(yMaj).tickSize(-9).tickFormat("")).call(styleAxis);
  g.append("g").attr("transform", `translate(${L + W},0)`)
    .call(d3.axisRight(y).tickValues(yMin).tickSize(-5).tickFormat("")).call(styleAxis);
  g.append("g").attr("transform", `translate(0,${T + H})`)
    .call(d3.axisBottom(x).tickValues(X_MAJOR).tickSize(-9).tickPadding(10).tickFormat(fmt)).call(styleAxis);
  g.append("g").attr("transform", `translate(0,${T + H})`)
    .call(d3.axisBottom(x).tickValues(X_MINOR).tickSize(-5).tickFormat("")).call(styleAxis);
  g.append("g").attr("transform", `translate(0,${T})`)
    .call(d3.axisTop(x).tickValues(X_MAJOR).tickSize(-9).tickFormat("")).call(styleAxis);
  g.append("g").attr("transform", `translate(0,${T})`)
    .call(d3.axisTop(x).tickValues(X_MINOR).tickSize(-5).tickFormat("")).call(styleAxis);
  g.append("rect").attr("x", L).attr("y", T).attr("width", W).attr("height", H)
    .attr("fill", "none").attr("stroke", "#000").attr("stroke-width", 3);
  const t = g.append("text").attr("x", L + p.lx).attr("y", T + p.ly).attr("fill", "#000")
    .attr("stroke", "#000").attr("stroke-width", p.serif ? 0.4 : 0.6)
    .attr("font-family", p.serif ? "Liberation Serif, serif" : "DejaVu Sans, sans-serif");
  let cur = 0;
  p.lab.forEach(([txt, lvl]) => {
    let off, size, weight = "normal", style = "normal";
    if (p.serif) {
      off = [0, 6, 10][lvl]; size = [24, 16, 9][lvl];
      if (lvl > 0) { weight = "bold"; style = lvl === 1 ? "italic" : "normal"; }
    } else {
      off = [0, 6, 8][lvl]; size = [22, 15, 11][lvl];
    }
    t.append("tspan").attr("dy", off - cur).attr("font-size", size)
      .attr("font-weight", weight).attr("font-style", style).text(txt);
    cur = off;
  });
});

// axis title under the last panel (overlaps the 5/10 ticks as in the original)
svg.append("text").attr("x", 135).attr("y", 1238).attr("font-family", "DejaVu Sans, sans-serif")
  .attr("font-size", 21).attr("stroke", "#000").attr("stroke-width", 0.5)
  .attr("textLength", 115).attr("lengthAdjust", "spacingAndGlyphs").text("Age (Gyr)");

// legend
const LEG = [
  {i: 0, x: 428, y: 1112, len: 382},
  {i: 4, x: 843, y: 1112, len: 416},
  {i: 1, x: 428, y: 1139, len: 374},
  {i: 2, x: 428, y: 1167, len: 177},
  {i: 3, x: 428, y: 1193, len: 199}
];
LEG.forEach(d => {
  svg.append("text").attr("x", d.x).attr("y", d.y).attr("fill", COLORS[d.i])
    .attr("stroke", COLORS[d.i]).attr("stroke-width", 0.6)
    .attr("font-family", "DejaVu Sans, sans-serif").attr("font-size", 21)
    .attr("textLength", d.len).attr("lengthAdjust", "spacingAndGlyphs").text(SERIES[d.i]);
});
const note = svg.append("text").attr("x", 712).attr("y", 1180).attr("fill", "#000")
  .attr("stroke", "#000").attr("stroke-width", 0.5)
  .attr("font-family", "DejaVu Sans, sans-serif").attr("font-size", 21);
note.append("tspan").text("solid lines: Z");
note.append("tspan").attr("dy", 5).attr("font-size", 13).text("⊙");
note.append("tspan").attr("dy", -5).attr("dx", 1).text("; dashed lines: −1.3");
</script>
</body></html>
